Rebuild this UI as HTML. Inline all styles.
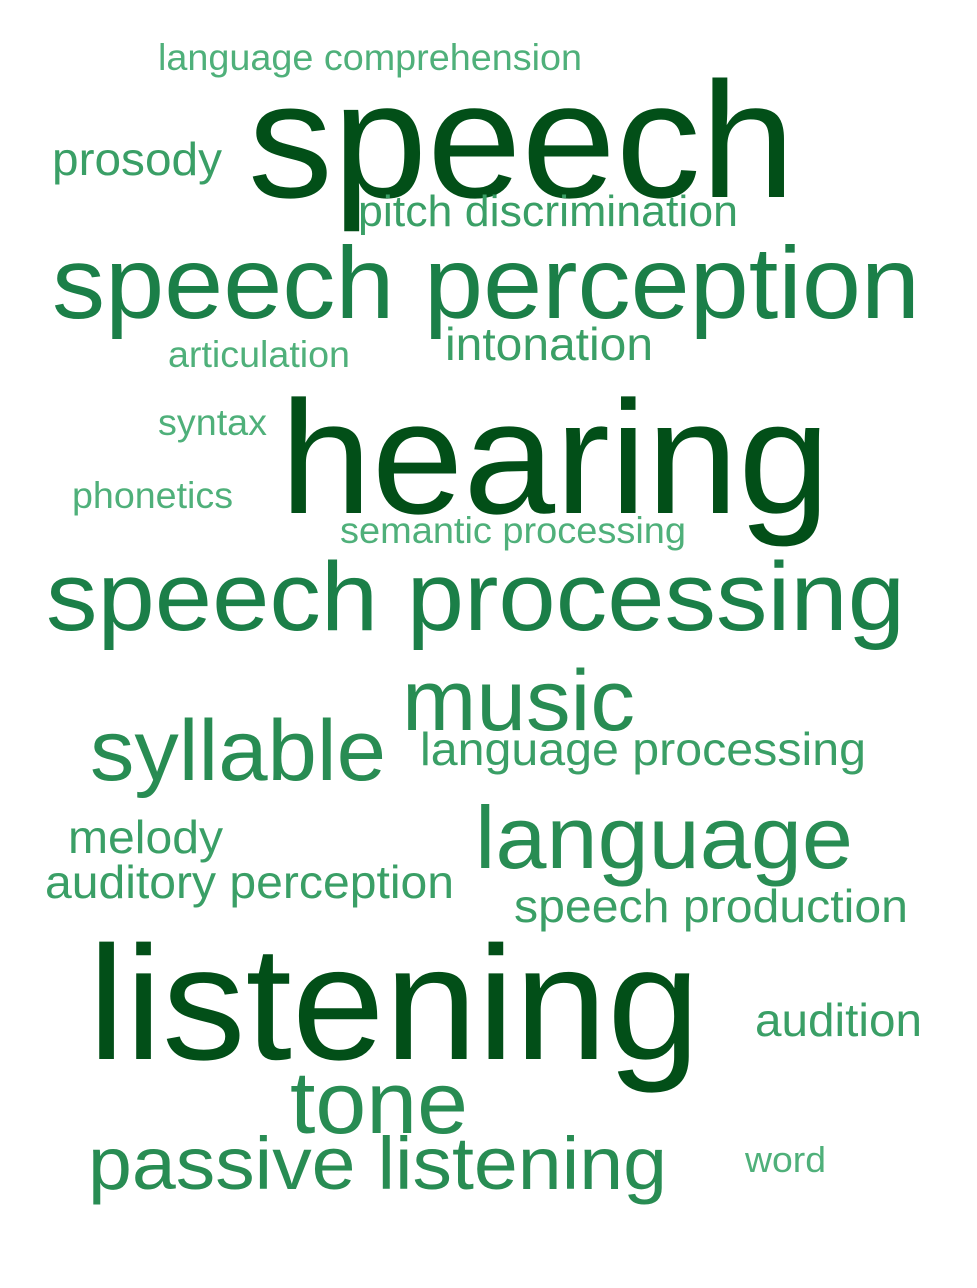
<!DOCTYPE html>
<html>
<head>
<meta charset="utf-8">
<style>
  html, body { margin: 0; padding: 0; background: #ffffff; }
  svg { display: block; }
  text { font-family: "Liberation Sans", Arial, sans-serif; }
</style>
</head>
<body>
<svg id="cloud" width="977" height="1288" viewBox="0 0 977 1288"></svg>
<script>
const words = ["language comprehension","speech","prosody","pitch discrimination","speech perception","articulation","intonation","syntax","hearing","phonetics","semantic processing","speech processing","music","syllable","language processing","melody","language","auditory perception","speech production","listening","audition","tone","passive listening","word"];
const weights = [37,165,46,44,102,37,46,37,161,37,37,97,86,86,46,46,88,46,46,162,46,88,74,36];
const layoutX = [158,248,52,358,52,168,445,158,280,72,340,46,402,90,420,68,475,45,514,88,755,290,88,745];
const layoutY = [70,197,175,226,318,367,360,435,513,508,543,630,730,780,765,853,868,898,922,1059,1036,1133,1189,1172];
const layoutW = [424,547,170,380,868,182,208,109,550,161,346,859,233,296,446,155,378,409,394,612,167,178,579,81];

function colorFor(w) {
  if (w >= 140) return "#024f18";
  if (w >= 95) return "#1b7f48";
  if (w >= 70) return "#288c53";
  if (w >= 43) return "#3a9f66";
  return "#4fb07a";
}

const svg = document.getElementById("cloud");
const NS = "http://www.w3.org/2000/svg";
for (let i = 0; i < words.length; i++) {
  const t = document.createElementNS(NS, "text");
  t.setAttribute("x", layoutX[i]);
  t.setAttribute("y", layoutY[i]);
  t.setAttribute("font-size", weights[i]);
  t.setAttribute("fill", colorFor(weights[i]));
  t.setAttribute("textLength", layoutW[i]);
  t.setAttribute("lengthAdjust", "spacingAndGlyphs");
  t.textContent = words[i];
  
  
  svg.appendChild(t);
}
</script>
</body>
</html>
